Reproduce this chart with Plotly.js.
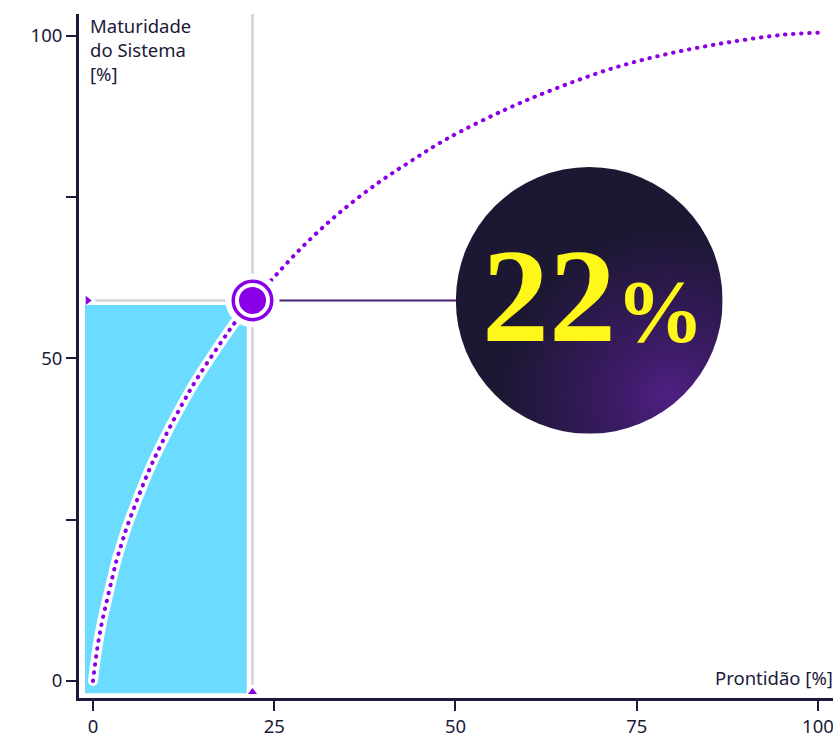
<!DOCTYPE html>
<html>
<head>
<meta charset="utf-8">
<script src="https://cdn.plot.ly/plotly-3.0.1.min.js"></script>
<style>
  html, body { margin: 0; padding: 0; background: #ffffff; }
  #chart { width: 833px; height: 739px; }
  .scatterlayer path.js-line { stroke-linecap: round; }
</style>
</head>
<body>
<div id="chart"></div>
<script>
// ---- data ----
const curveX = [0, 0.6, 1.2, 1.9, 2.6, 3.2, 3.9, 4.6, 6.2, 7.9, 9.9, 12.5, 14.2, 17.3, 19.6, 22, 24.4, 28.8, 33.8, 39.3, 44, 48.9, 57.1, 64.4, 72, 79.6, 87.6, 95.4, 100];
const curveY = [0, 5.1, 8.9, 12.4, 15.7, 18.5, 21.1, 23.6, 28.4, 33.1, 37.8, 43.3, 46.6, 51.9, 55.6, 59, 61.9, 67.2, 72.4, 77.2, 80.7, 84.1, 88.7, 92.1, 95.1, 97.3, 99, 100.2, 100.5];
const readiness = [22];      // Prontidão [%]
const maturity = [59];       // Maturidade do Sistema [%]
const xTicks = [0, 25, 50, 75, 100];
const xTickLabels = ['0', '25', '50', '75', '100'];
const yTicks = [0, 25, 50, 75, 100];
const yTickLabels = ['0', '', '50', '', '100'];
const xTitle = 'Prontidão [%]';
const yTitle = 'Maturidade<br>do Sistema<br>[%]';

// ---- styling ----
const NAVY = '#1c1a3a';
const PURPLE = '#8a00e6';
const CYAN = '#6bdcff';
const GREY = '#d2d2d8';
const LINK = '#4a2378';
const YELLOW = '#fff71a';
const XR = [-1.93, 102.07];
const YR = [-2.64, 103.4];

const rx = readiness[0], my = maturity[0];
const badgeX = 68.45, badgeY = my;

const bandX = [], bandY = [];
curveX.forEach((v, i) => { if (v <= rx) { bandX.push(v); bandY.push(curveY[i]); } });

const svg = "<svg xmlns='http://www.w3.org/2000/svg' viewBox='0 0 100 100'>" +
  "<defs><radialGradient id='g' cx='0.8' cy='0.86' r='0.62' fx='0.8' fy='0.86'>" +
  "<stop offset='0' stop-color='#4f2083'/><stop offset='0.35' stop-color='#3a1b63'/><stop offset='1' stop-color='#1c1733'/>" +
  "</radialGradient></defs><circle cx='50' cy='50' r='50' fill='url(#g)'/></svg>";
const svgURI = 'data:image/svg+xml;charset=utf-8,' + encodeURIComponent(svg);

const traces = [
  { x: bandX, y: bandY, mode: 'lines', line: { color: '#ffffff', width: 10, shape: 'spline', smoothing: 1 }, hoverinfo: 'skip', showlegend: false },
  { x: curveX, y: curveY, mode: 'lines', line: { color: PURPLE, width: 4, dash: '0.5px,7.6px', shape: 'spline', smoothing: 1 }, hoverinfo: 'skip', showlegend: false },
  { x: [rx, badgeX], y: [my, badgeY], mode: 'lines', line: { color: LINK, width: 2 }, hoverinfo: 'skip', showlegend: false },
  { x: readiness, y: maturity, mode: 'markers', marker: { size: 54, color: '#ffffff' }, hoverinfo: 'skip', showlegend: false },
  { x: readiness, y: maturity, mode: 'markers', marker: { size: 38.5, color: '#ffffff', line: { color: PURPLE, width: 3.5 } }, hoverinfo: 'skip', showlegend: false },
  { x: readiness, y: maturity, mode: 'markers', marker: { size: 27, color: PURPLE }, hoverinfo: 'skip', showlegend: false },
  { x: [-0.73, rx], y: [my, -1.7], mode: 'markers', marker: { size: 8, color: PURPLE, symbol: ['triangle-right', 'triangle-up'] }, cliponaxis: false, hoverinfo: 'skip', showlegend: false }
];

const axisCommon = {
  showgrid: false, zeroline: false, showline: true, linecolor: NAVY, linewidth: 3,
  ticks: 'outside', ticklen: 10, tickwidth: 2, tickcolor: NAVY,
  tickfont: { family: 'Noto Sans', size: 18.5, color: NAVY }, fixedrange: true,
  ticklabeloverflow: 'allow'
};

const layout = {
  width: 833, height: 739,
  margin: { l: 79, r: 0, t: 14, b: 41 },
  paper_bgcolor: '#ffffff', plot_bgcolor: '#ffffff',
  showlegend: false,
  xaxis: Object.assign({}, axisCommon, { range: XR, tickmode: 'array', tickvals: xTicks, ticktext: xTickLabels }),
  yaxis: Object.assign({}, axisCommon, { range: YR, tickmode: 'array', tickvals: yTicks, ticktext: yTickLabels }),
  shapes: [
    { type: 'rect', xref: 'x', yref: 'y', x0: -1.1, x1: rx - 0.8, y0: -1.9, y1: my - 0.7, fillcolor: CYAN, line: { width: 0 }, layer: 'below' },
    { type: 'line', xref: 'x', yref: 'y', x0: rx, x1: rx, y0: -0.6, y1: YR[1], line: { color: GREY, width: 2.5 }, layer: 'below' },
    { type: 'line', xref: 'x', yref: 'y', x0: 0.3, x1: rx, y0: my, y1: my, line: { color: GREY, width: 2.5 }, layer: 'below' }
  ],
  images: [
    { source: svgURI, xref: 'x', yref: 'y', x: badgeX, y: badgeY, sizex: 36.8, sizey: 41.35, xanchor: 'center', yanchor: 'middle', sizing: 'stretch', layer: 'above' }
  ],
  annotations: [
    { xref: 'paper', yref: 'paper', x: 0, y: 1, xanchor: 'left', yanchor: 'top', xshift: 9, yshift: 3, align: 'left', showarrow: false, text: yTitle, font: { family: 'Noto Sans', size: 18.5, color: NAVY } },
    { xref: 'paper', yref: 'paper', x: 1, y: 0, xanchor: 'right', yanchor: 'bottom', xshift: 2, yshift: 6, align: 'right', showarrow: false, text: xTitle, font: { family: 'Noto Sans', size: 18.5, color: NAVY } },
    { xref: 'x', yref: 'y', x: badgeX, y: badgeY, xanchor: 'center', yanchor: 'middle', xshift: 4, yshift: 4, showarrow: false,
      text: rx + "<span style='font-size:88px'>%</span>", font: { family: 'Liberation Serif', size: 134, color: YELLOW, weight: 700 } }
  ]
};

Plotly.newPlot('chart', traces, layout, { staticPlot: true, displayModeBar: false });
</script>
</body>
</html>
